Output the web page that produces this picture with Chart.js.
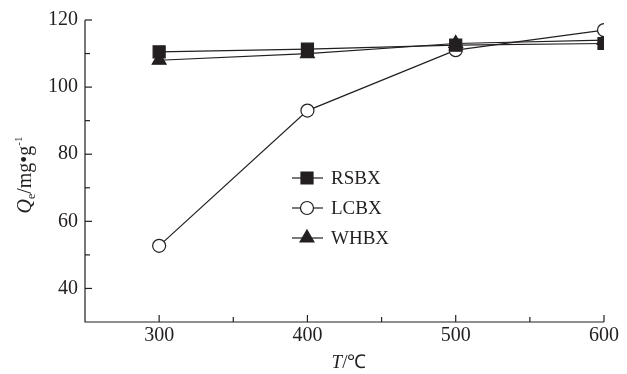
<!DOCTYPE html>
<html>
<head>
<meta charset="utf-8">
<script src="https://cdn.jsdelivr.net/npm/chart.js@4"></script>
<style>
  html, body { margin: 0; padding: 0; background: #fff; }
</style>
</head>
<body>
<canvas id="lineChart" width="627" height="374"></canvas>
<script>
const temps = [300, 400, 500, 600];
const rsbx = [110.5, 111.3, 112.5, 113];
const lcbx = [52.7, 93, 111, 117];
const whbx = [108, 110, 113, 114];
const yLabels = [40, 60, 80, 100, 120];
const xLabels = [300, 400, 500, 600];

const serif = '"Liberation Serif", "Times New Roman", serif';
const ink = '#231f20';

function pts(ys) {
  return temps.map((t, i) => ({ x: t, y: ys[i] }));
}

// inward ticks, legend and axis titles
const decor = {
  id: 'decor',
  afterDraw(chart) {
    const ctx = chart.ctx;
    const xs = chart.scales.x, ys = chart.scales.y;
    const area = chart.chartArea;
    ctx.save();
    ctx.strokeStyle = ink;
    ctx.lineWidth = 1.2;
    ctx.beginPath();
    ctx.moveTo(area.left, area.top);
    ctx.lineTo(area.left, area.bottom);
    ctx.lineTo(area.right, area.bottom);
    ctx.stroke();
    for (let v = 300; v <= 600; v += 50) {
      const px = xs.getPixelForValue(v);
      ctx.beginPath();
      ctx.moveTo(px, area.bottom);
      ctx.lineTo(px, area.bottom - (v % 100 === 0 ? 7 : 5));
      ctx.stroke();
    }
    for (let v = 40; v <= 120; v += 10) {
      const py = ys.getPixelForValue(v);
      ctx.beginPath();
      ctx.moveTo(area.left, py);
      ctx.lineTo(area.left + (v % 20 === 0 ? 7 : 5), py);
      ctx.stroke();
    }

    // legend
    ctx.font = '19px ' + serif;
    ctx.textBaseline = 'middle';
    chart.data.datasets.forEach((ds, i) => {
      const y = 178 + i * 30;
      ctx.strokeStyle = ink;
      ctx.lineWidth = 1.2;
      ctx.beginPath();
      ctx.moveTo(292, y);
      ctx.lineTo(323, y);
      ctx.stroke();
      ctx.fillStyle = ds.pointBackgroundColor;
      Chart.helpers.drawPoint(ctx, {
        pointStyle: ds.pointStyle, radius: ds.pointRadius, borderWidth: 1.2
      }, 307, y);
      ctx.fillStyle = ink;
      ctx.textAlign = 'left';
      ctx.fillText(ds.label, 331, y + 1);
    });

    // x title T/℃
    ctx.textAlign = 'left';
    ctx.textBaseline = 'alphabetic';
    ctx.font = 'italic 19px ' + serif;
    const tw = ctx.measureText('T').width;
    ctx.font = '19px ' + serif;
    const rw = ctx.measureText('/℃').width;
    const cx = 349 - (tw + rw) / 2;
    ctx.font = 'italic 19px ' + serif;
    ctx.fillText('T', cx, 368);
    ctx.font = '19px ' + serif;
    ctx.fillText('/℃', cx + tw, 368);

    // y title Qe/mg·g-1
    ctx.translate(31, 175);
    ctx.rotate(-Math.PI / 2);
    const parts = [
      { t: 'Q', f: 'italic 20px ', dy: 0 },
      { t: 'e', f: '12px ', dy: 4 },
      { t: '/mg\u2022g', f: '20px ', dy: 0 },
      { t: '-1', f: '11px ', dy: -9 }
    ];
    let total = 0;
    parts.forEach(p => { ctx.font = p.f + serif; p.w = ctx.measureText(p.t).width; total += p.w; });
    let x0 = -total / 2;
    parts.forEach(p => {
      ctx.font = p.f + serif;
      ctx.fillText(p.t, x0, p.dy);
      x0 += p.w;
    });
    ctx.restore();
  }
};

const common = {
  borderColor: ink,
  borderWidth: 1.2,
  pointBorderColor: ink,
  pointBorderWidth: 1.2,
  tension: 0
};

new Chart(document.getElementById('lineChart'), {
  type: 'line',
  data: {
    datasets: [
      Object.assign({ label: 'RSBX', data: pts(rsbx), pointStyle: 'rect', pointRadius: 8.5,
        pointBackgroundColor: ink }, common),
      Object.assign({ label: 'LCBX', data: pts(lcbx), pointStyle: 'circle', pointRadius: 6.5,
        pointBackgroundColor: '#fff' }, common),
      Object.assign({ label: 'WHBX', data: pts(whbx), pointStyle: 'triangle', pointRadius: 8,
        pointBackgroundColor: ink }, common)
    ]
  },
  options: {
    responsive: false,
    animation: false,
    devicePixelRatio: 1,
    layout: { padding: { top: 20, right: 23, left: 0, bottom: 0 } },
    plugins: { legend: { display: false }, tooltip: { enabled: false } },
    scales: {
      x: {
        type: 'linear', min: 250, max: 600,
        border: { display: false },
        grid: { display: false, drawTicks: false, tickLength: 0 },
        afterBuildTicks(s) { s.ticks = xLabels.map(v => ({ value: v })); },
        afterFit(s) { s.height = 52; },
        ticks: { color: ink, font: { family: serif, size: 20 }, padding: 2, maxRotation: 0 }
      },
      y: {
        min: 30, max: 120,
        border: { display: false },
        grid: { display: false, drawTicks: false, tickLength: 0 },
        afterBuildTicks(s) { s.ticks = yLabels.map(v => ({ value: v })); },
        afterFit(s) { s.width = 85; },
        ticks: { color: ink, font: { family: serif, size: 20 }, padding: 7 }
      }
    }
  },
  plugins: [decor]
});
</script>
</body>
</html>
